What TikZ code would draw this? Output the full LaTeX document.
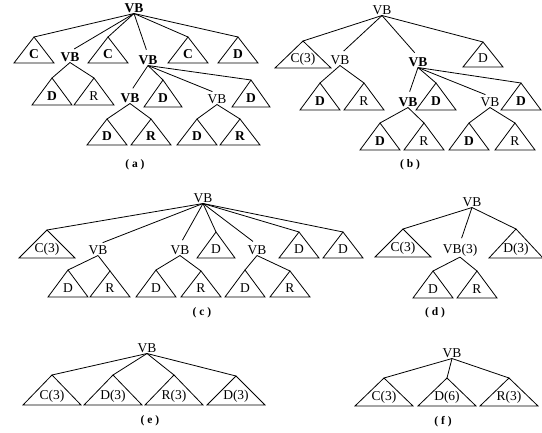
\documentclass[tikz,border=0pt]{standalone}
\usepackage{fontspec}
\setmainfont{Liberation Serif}
\usetikzlibrary{calc}
\tikzset{
  edge/.style={line width=0.8pt},
  vbedge/.style={line width=0.8pt, shorten >=5pt},
  tline/.style={line width=0.8pt, line join=miter},
  lbl/.style={font=\fontsize{13.5}{13.5}\selectfont, inner sep=0.8pt},
  blbl/.style={font=\fontsize{13.5}{13.5}\selectfont\bfseries, inner sep=0.8pt},
  panellabel/.style={font=\fontsize{11.5}{11.5}\selectfont\bfseries, inner sep=1pt}
}
\newcommand\mytri[7]{%
  \coordinate (#1) at (#2,#3);
  \draw[tline] (#1) -- ++(-#4,#5) -- ++(2*#4,0) -- cycle;
  \node[#6] (#1t) at ($(#1)+(0,#5-9)$) {#7};
}
\begin{document}
\begin{tikzpicture}[x=1pt,y=-1pt]
\fill[white] (0,0) rectangle (542,433);
\useasboundingbox (0,0) rectangle (542,433);

% ---------------- (a)
\node[blbl] (vbA) at (134,8) {VB};
\node[blbl] (vbA2) at (70,57) {VB};
\node[blbl] (vbA3) at (148,60) {VB};
\node[blbl] (vbA4) at (130,98) {VB};
\node[lbl] (vbA5) at (217,99) {VB};
\mytri{a1}{34}{37}{20}{26}{blbl}{C}
\mytri{a2}{108}{37}{20}{26}{blbl}{C}
\mytri{a3}{188}{37}{20}{26}{blbl}{C}
\mytri{a4}{238}{37}{20}{26}{blbl}{D}
\mytri{a5}{52}{78}{20}{27}{blbl}{D}
\mytri{a6}{94}{78}{20}{27}{lbl}{R}
\mytri{a7}{163}{80}{19}{27}{blbl}{D}
\mytri{a8}{251}{80}{19}{27}{blbl}{D}
\mytri{a9}{107}{119}{20}{26}{blbl}{D}
\mytri{a10}{151}{119}{20}{26}{blbl}{R}
\mytri{a11}{197}{119}{20}{26}{blbl}{D}
\mytri{a12}{240}{119}{20}{26}{blbl}{R}
\draw[edge] (vbA.south) -- (a1);
\draw[vbedge] (vbA.south) -- (vbA2.north);
\draw[edge] (vbA.south) -- (a2);
\draw[vbedge] (vbA.south) -- (vbA3.north);
\draw[edge] (vbA.south) -- (a3);
\draw[edge] (vbA.south) -- (a4);
\draw[edge] (vbA2.south) -- (a5);
\draw[edge] (vbA2.south) -- (a6);
\draw[vbedge] (vbA3.south) -- (vbA4.north);
\draw[edge] (vbA3.south) -- (a7);
\draw[vbedge] (vbA3.south) -- (vbA5.north);
\draw[edge] (vbA3.south) -- (a8);
\draw[edge] (vbA4.south) -- (a9);
\draw[edge] (vbA4.south) -- (a10);
\draw[edge] (vbA5.south) -- (a11);
\draw[edge] (vbA5.south) -- (a12);
\node[panellabel] (la) at (135,165) {( a )};

% ---------------- (b)
\node[lbl] (vbB) at (382,10) {VB};
\node[lbl] (vbB2) at (340,60) {VB};
\node[blbl] (vbB3) at (418,62) {VB};
\node[blbl] (vbB4) at (408,102) {VB};
\node[lbl] (vbB5) at (490,102) {VB};
\mytri{b1}{303}{41}{28}{27}{lbl}{C(3)}
\mytri{b2}{483}{42}{20}{25}{lbl}{D}
\mytri{b3}{320}{83}{20}{27}{blbl}{D}
\mytri{b4}{364}{83}{20}{27}{lbl}{R}
\mytri{b5}{436}{83}{20}{27}{blbl}{D}
\mytri{b6}{521}{83}{20}{27}{blbl}{D}
\mytri{b7}{380}{123}{20}{27}{blbl}{D}
\mytri{b8}{424}{123}{20}{27}{lbl}{R}
\mytri{b9}{469}{123}{20}{27}{blbl}{D}
\mytri{b10}{515}{123}{20}{27}{lbl}{R}
\draw[edge] (vbB.south) -- (b1);
\draw[vbedge] (vbB.south) -- (vbB2.north);
\draw[vbedge] (vbB.south) -- (vbB3.north);
\draw[edge] (vbB.south) -- (b2);
\draw[edge] (vbB2.south) -- (b3);
\draw[edge] (vbB2.south) -- (b4);
\draw[vbedge] (vbB3.south) -- (vbB4.north);
\draw[edge] (vbB3.south) -- (b5);
\draw[vbedge] (vbB3.south) -- (vbB5.north);
\draw[edge] (vbB3.south) -- (b6);
\draw[edge] (vbB4.south) -- (b7);
\draw[edge] (vbB4.south) -- (b8);
\draw[edge] (vbB5.south) -- (b9);
\draw[edge] (vbB5.south) -- (b10);
\node[panellabel] (lb) at (410,165) {( b )};

% ---------------- (c)
\node[lbl] (vbC) at (203,198) {VB};
\node[lbl] (vbC2) at (98,250) {VB};
\node[lbl] (vbC3) at (180,250) {VB};
\node[lbl] (vbC4) at (257,250) {VB};
\mytri{c1}{47}{230}{28}{28}{lbl}{C(3)}
\mytri{c2}{216}{232}{19}{26}{lbl}{D}
\mytri{c3}{299}{232}{20}{26}{lbl}{D}
\mytri{c4}{343}{232}{20}{26}{lbl}{D}
\mytri{c5}{68}{270}{20}{27}{lbl}{D}
\mytri{c6}{110}{271}{20}{26}{lbl}{R}
\mytri{c7}{156}{270}{20}{27}{lbl}{D}
\mytri{c8}{201}{271}{20}{26}{lbl}{R}
\mytri{c9}{245}{270}{20}{27}{lbl}{D}
\mytri{c10}{290}{271}{20}{26}{lbl}{R}
\draw[edge] (vbC.south) -- (c1);
\draw[vbedge] (vbC.south) -- (vbC2.north);
\draw[vbedge] (vbC.south) -- (vbC3.north);
\draw[edge] (vbC.south) -- (c2);
\draw[vbedge] (vbC.south) -- (vbC4.north);
\draw[edge] (vbC.south) -- (c3);
\draw[edge] (vbC.south) -- (c4);
\draw[edge] (vbC2.south) -- (c5);
\draw[edge] (vbC2.south) -- (c6);
\draw[edge] (vbC3.south) -- (c7);
\draw[edge] (vbC3.south) -- (c8);
\draw[edge] (vbC4.south) -- (c9);
\draw[edge] (vbC4.south) -- (c10);
\node[panellabel] (lc) at (202,313) {( c )};

% ---------------- (d)
\node[lbl] (vbD) at (472,202) {VB};
\node[lbl] (vbD2) at (460,250) {VB(3)};
\mytri{d1}{403}{229}{28}{28}{lbl}{C(3)}
\mytri{d2}{516}{229}{27}{29}{lbl}{D(3)}
\mytri{d3}{433}{271}{20}{27}{lbl}{D}
\mytri{d4}{477}{271}{20}{27}{lbl}{R}
\draw[edge] (vbD.south) -- (d1);
\draw[vbedge] (vbD.south) -- (vbD2.north);
\draw[edge] (vbD.south) -- (d2);
\draw[edge] (vbD2.south) -- (d3);
\draw[edge] (vbD2.south) -- (d4);
\node[panellabel] (ld) at (435,313) {( d )};

% ---------------- (e)
\node[lbl] (vbE) at (147,348) {VB};
\mytri{e1}{52}{375}{29}{30}{lbl}{C(3)}
\mytri{e2}{113}{375}{29}{30}{lbl}{D(3)}
\mytri{e3}{174}{375}{29}{30}{lbl}{R(3)}
\mytri{e4}{236}{376}{29}{29}{lbl}{D(3)}
\draw[edge] (vbE.south) -- (e1);
\draw[edge] (vbE.south) -- (e2);
\draw[edge] (vbE.south) -- (e3);
\draw[edge] (vbE.south) -- (e4);
\node[panellabel] (le) at (150,421) {( e )};

% ---------------- (f)
\node[lbl] (vbF) at (452,353) {VB};
\mytri{f1}{384}{378}{29}{28}{lbl}{C(3)}
\mytri{f2}{447}{378}{29}{28}{lbl}{D(6)}
\mytri{f3}{509}{378}{29}{28}{lbl}{R(3)}
\draw[edge] (vbF.south) -- (f1);
\draw[edge] (vbF.south) -- (f2);
\draw[edge] (vbF.south) -- (f3);
\node[panellabel] (lf) at (443,422) {( f )};
\end{tikzpicture}
\end{document}
